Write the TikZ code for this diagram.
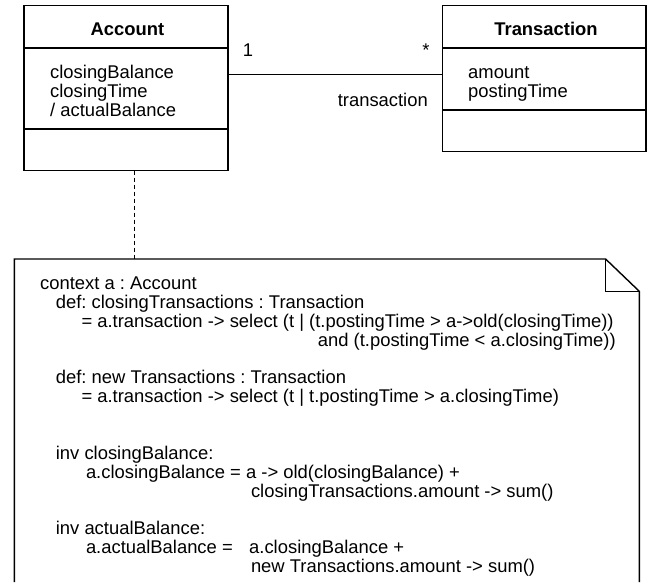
\documentclass[tikz,border=0pt]{standalone}
\usepackage{fontspec}
\setmainfont{Liberation Sans}
\newcommand\umlfs{\fontsize{18.4}{19}\selectfont\frenchspacing}
\begin{document}
\frenchspacing
\begin{tikzpicture}[x=1pt,y=-1pt,
  comp/.style={draw, line width=1.4pt, rectangle, inner sep=0pt, outer sep=0pt, anchor=north west},
  title/.style={inner sep=0pt, anchor=base, font=\umlfs\bfseries},
  txt/.style={inner sep=0pt, anchor=base west, font=\umlfs},
  lbl/.style={inner sep=0pt, anchor=base, font=\umlfs},
  assoc/.style={line width=1.4pt},
  anchorline/.style={line width=1pt, dash pattern=on 4pt off 3pt},
  notebox/.style={line width=1.4pt, line join=miter}]
\useasboundingbox (0,0) rectangle (647,582);

% Account class
\node[comp, minimum width=204pt, minimum height=42.4pt] (acchead) at (24,5.6) {};
\node[comp, minimum width=204pt, minimum height=81pt] (accattr) at (24,48) {};
\node[comp, minimum width=204pt, minimum height=41.5pt] (accops) at (24,129) {};
\node[title] (acctitle) at (127.5,35.5) {Account};
\node[txt] (acca1) at (50,78) {closingBalance};
\node[txt] (acca2) at (50,97) {closingTime};
\node[txt] (acca3) at (50,116) {/ actualBalance};

% Transaction class
\node[comp, minimum width=203.1pt, minimum height=42.4pt] (trnhead) at (442.7,5.6) {};
\node[comp, minimum width=203.1pt, minimum height=62pt] (trnattr) at (442.7,48) {};
\node[comp, minimum width=203.1pt, minimum height=41.4pt] (trnops) at (442.7,110) {};
\node[title] (trntitle) at (546,35.5) {Transaction};
\node[txt] (trna1) at (468,78) {amount};
\node[txt] (trna2) at (468,97) {postingTime};

% association
\coordinate (assocy) at (0,74.2);
\draw[assoc] (accattr.east |- assocy) -- (trnattr.west |- assocy);
\node[lbl] (mult1) at (248,56) {1};
\node[lbl] (multn) at (426,56) {*};
\node[txt, anchor=base east] (role) at (428,106.5) {transaction};

% note
\coordinate (notetop) at (134,259);
\draw[notebox] (14.4,582) -- (14.4,259) -- (605.6,259) -- (639.4,291.4) -- (639.4,582);
\draw[notebox] (605.6,259) -- (605.6,291.4) -- (639.4,291.4);
\draw[anchorline] (accops.south -| notetop) -- (notetop);

\node[txt] (n0) at (40,289.7) {context a : Account};
\node[txt] (n1) at (55.7,308.55) {def: closingTransactions : Transaction};
\node[txt] (n2) at (81.3,327.4) {= a.transaction -> select (t | (t.postingTime > a->old(closingTime))};
\node[txt] (n3) at (317.7,346.25) {and (t.postingTime < a.closingTime))};
\node[txt] (n5) at (55.7,383.95) {def: new Transactions : Transaction};
\node[txt] (n6) at (81.3,402.8) {= a.transaction -> select (t | t.postingTime > a.closingTime)};
\node[txt] (n9) at (55.7,459.35) {inv closingBalance:};
\node[txt] (n10) at (85.8,478.2) {a.closingBalance = a -> old(closingBalance) +};
\node[txt] (n11) at (250.8,497.05) {closingTransactions.amount -> sum()};
\node[txt] (n13) at (55.7,534.75) {inv actualBalance:};
\node[txt] (n14a) at (85.8,553.6) {a.actualBalance =};
\node[txt] (n14b) at (249,553.6) {a.closingBalance +};
\node[txt] (n15) at (250.8,572.45) {new Transactions.amount -> sum()};
\end{tikzpicture}
\end{document}
